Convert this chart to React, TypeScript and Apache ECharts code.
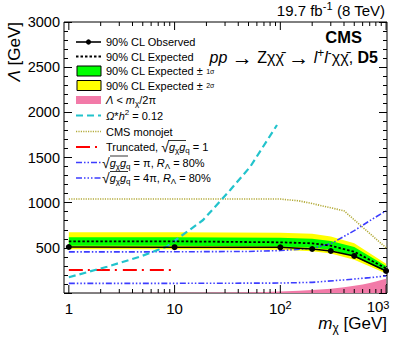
import React, { useEffect, useRef } from 'react';
import * as echarts from 'echarts';

// ---------------- data ----------------
const massPoints = [1, 10, 100, 200, 300, 500, 1000];
const observed = [509, 507, 506, 487, 465, 410, 244];
const expected = [572, 572, 561, 550, 524, 457, 273];
const expUp1 = [617, 617, 612, 600, 576, 508, 300];
const expDown1 = [524, 524, 515, 502, 478, 405, 238];
const expUp2 = [672, 672, 668, 655, 625, 552, 325];
const expDown2 = [484, 484, 478, 462, 438, 368, 216];

const relicMass = [1, 2.3, 4.7, 8.4, 18.6, 33.6, 52, 93];
const relicLambda = [174, 291, 402, 513, 808, 1140, 1399, 1860];

const monojetMass = [1, 100, 150, 200, 400, 1000];
const monojetLambda = [1040, 1040, 1020, 990, 910, 500];

const truncMass = [1, 10.5];
const truncLambda = [255, 255];

const piMass = [1, 10, 50, 100, 200, 300, 500, 700, 1000];
const piLambda = [455, 456, 460, 470, 495, 545, 690, 800, 910];

const fourPiMass = [1, 10, 100, 200, 400, 700, 1000];
const fourPiLambda = [107, 107, 110, 118, 145, 170, 188];

const pinkMass = [1, 10, 30, 60, 100, 150, 200, 300, 400, 500, 600, 700, 800, 900, 1000];
const pinkLambda = [0.16, 1.6, 4.8, 9.5, 16, 24, 32, 48, 64, 80, 95, 111, 127, 143, 159];

const xMajorTicks = [1, 10, 100, 1000];
const xMinorTicks = [2, 3, 4, 5, 6, 7, 8, 9, 20, 30, 40, 50, 60, 70, 80, 90, 200, 300, 400, 500, 600, 700, 800, 900];

const Y_MIN = 0;
const Y_MAX = 3000;
const Y_STEP = 500;
const X_MIN = 0.9;
const X_MAX = 1020;

const legendTexts = [
  '90% CL Observed',
  '90% CL Expected',
  '90% CL Expected ± {s|1σ}',
  '90% CL Expected ± {s|2σ}',
  '{i|Λ} < {i|m}{sub|χ}/2π',
  '{i|Ω}*{i|h}{sup|2} = 0.12',
  'CMS monojet',
  'Truncated, {rad|√}{i|g}{sub|χ}{i|g}{sub|q} = 1',
  '{rad|√}{i|g}{sub|χ}{i|g}{sub|q} = π, {i|R}{sub|Λ} = 80%',
  '{rad|√}{i|g}{sub|χ}{i|g}{sub|q} = 4π, {i|R}{sub|Λ} = 80%',
];

// ---------------- styles ----------------
const FONT = "'Liberation Sans', Arial, Helvetica, sans-serif";
const C_GREEN = '#00ff00';
const C_YELLOW = '#ffff00';
const C_PINK = '#f27aa8';
const C_CYAN = '#22c3cc';
const C_OLIVE = '#b3ab3a';
const C_RED = '#ff0000';
const C_BLUE = '#3d3dff';

const DASH_EXP = [2.5, 2];
const DASH_CYAN = [7, 4];
const DASH_OLIVE = [1.2, 1.2];
const DASH_RED = [14, 5, 2, 6];
const DASH_PI = [6, 2, 1.5, 2, 1.5, 2];
const DASH_4PI = [6, 2, 1.5, 2, 1.5, 2, 1.5, 2];

const mkRich = (base: number) => ({
  i: { fontStyle: 'italic', fontSize: base, fontFamily: FONT, lineHeight: base + 4, fill: '#000', color: '#000' },
  sub: { fontSize: Math.round(base * 0.72), fontFamily: FONT, lineHeight: Math.round(base * 0.72), verticalAlign: 'bottom', fill: '#000', color: '#000' },
  sup: { fontSize: Math.round(base * 0.72), fontFamily: FONT, lineHeight: Math.round(base * 0.72), verticalAlign: 'top', fill: '#000', color: '#000' },
  s: { fontSize: Math.round(base * 0.65), fontFamily: FONT, lineHeight: base + 4, fill: '#000', color: '#000' },
  rad: { fontSize: base + 3, fontFamily: FONT, lineHeight: base + 4, fill: '#000', color: '#000' },
  b: { fontSize: base, fontWeight: 'bold', fontFamily: FONT, lineHeight: base + 4, fill: '#000', color: '#000' },
  g: { fontSize: base, fontFamily: FONT, lineHeight: base + 4, fill: '#000', color: '#000' },
  ar: { fontSize: base + 5, fontFamily: FONT, lineHeight: base + 4, fill: '#000', color: '#000' },
});

const pair = (xs: number[], ys: number[]) => xs.map((x, i) => [x, ys[i]]);

const lineSeries = (name: string, xs: number[], ys: number[], color: string, width: number, dash: any, z: number) => ({
  name,
  type: 'line',
  data: pair(xs, ys),
  showSymbol: false,
  symbol: 'none',
  silent: true,
  z,
  lineStyle: { color, width, type: dash },
});

const bandSeries = (up: number[], down: number[], color: string, z: number) => ({
  type: 'custom',
  z,
  silent: true,
  clip: true,
  data: [[massPoints[0], down[0]]],
  renderItem: (_p: any, api: any) => {
    const top = massPoints.map((m, i) => api.coord([m, up[i]]));
    const bottom = massPoints.map((m, i) => api.coord([m, down[i]])).reverse();
    return { type: 'polygon', shape: { points: [...top, ...bottom] }, style: { fill: color } };
  },
});

function buildOption() {
  const legendX1 = 76;
  const legendX2 = 101;
  const rowY = [42, 56.5, 71, 85.5, 100, 115.5, 131.5, 147, 162.5, 178];
  const lrich = mkRich(11);

  const symbols: any[] = [
    { type: 'line', shape: { x1: legendX1, y1: rowY[0], x2: legendX2, y2: rowY[0] }, style: { stroke: '#000', lineWidth: 1.6 } },
    { type: 'circle', shape: { cx: (legendX1 + legendX2) / 2, cy: rowY[0], r: 2.6 }, style: { fill: '#000' } },
    { type: 'line', shape: { x1: legendX1, y1: rowY[1], x2: legendX2, y2: rowY[1] }, style: { stroke: '#000', lineWidth: 1.8, lineDash: DASH_EXP } },
    { type: 'rect', shape: { x: 77, y: rowY[2] - 5, width: 24, height: 10 }, style: { fill: C_GREEN, stroke: '#000', lineWidth: 1 } },
    { type: 'rect', shape: { x: 77, y: rowY[3] - 5, width: 24, height: 10 }, style: { fill: C_YELLOW, stroke: '#000', lineWidth: 1 } },
    { type: 'rect', shape: { x: 76, y: rowY[4] - 4, width: 25, height: 8 }, style: { fill: C_PINK } },
    { type: 'line', shape: { x1: legendX1, y1: rowY[5], x2: legendX2, y2: rowY[5] }, style: { stroke: C_CYAN, lineWidth: 2.2, lineDash: DASH_CYAN } },
    { type: 'line', shape: { x1: legendX1, y1: rowY[6], x2: legendX2, y2: rowY[6] }, style: { stroke: C_OLIVE, lineWidth: 1.6, lineDash: DASH_OLIVE } },
    { type: 'line', shape: { x1: legendX1, y1: rowY[7], x2: legendX2, y2: rowY[7] }, style: { stroke: C_RED, lineWidth: 2, lineDash: DASH_RED } },
    { type: 'line', shape: { x1: legendX1, y1: rowY[8], x2: legendX2, y2: rowY[8] }, style: { stroke: C_BLUE, lineWidth: 1.6, lineDash: DASH_PI } },
    { type: 'line', shape: { x1: legendX1, y1: rowY[9], x2: legendX2, y2: rowY[9] }, style: { stroke: C_BLUE, lineWidth: 1.6, lineDash: DASH_4PI } },
  ];

  const texts: any[] = legendTexts.map((t, k) => ({
    type: 'text',
    x: k >= 8 ? 102 : 106,
    y: rowY[k],
    style: { text: t, rich: lrich, fontSize: 11, fontFamily: FONT, lineHeight: 15, fill: '#000', align: 'left', verticalAlign: 'middle' },
  }));

  const overlines: any[] = [
    { type: 'line', shape: { x1: 168, y1: rowY[7] - 6.5, x2: 186, y2: rowY[7] - 6.5 }, style: { stroke: '#000', lineWidth: 0.8 } },
    { type: 'line', shape: { x1: 110, y1: rowY[8] - 6.5, x2: 128, y2: rowY[8] - 6.5 }, style: { stroke: '#000', lineWidth: 0.8 } },
    { type: 'line', shape: { x1: 110, y1: rowY[9] - 6.5, x2: 128, y2: rowY[9] - 6.5 }, style: { stroke: '#000', lineWidth: 0.8 } },
  ];

  const headers: any[] = [
    {
      type: 'text', x: 385, y: 10,
      style: { text: '19.7 fb{sup|-1} (8 TeV)', rich: mkRich(15), fontSize: 15, fontFamily: FONT, lineHeight: 19, fill: '#000', align: 'right', verticalAlign: 'middle' },
    },
    {
      type: 'text', x: 362, y: 37,
      style: { text: 'CMS', fontSize: 16.5, fontWeight: 'bold', fontFamily: FONT, fill: '#000', align: 'right', verticalAlign: 'middle' },
    },
    {
      type: 'text', x: 378, y: 57,
      style: {
        text: '{i|pp} {ar|→} Z{g|χχ̄} {ar|→} {i|l}{sup|+}{i|l}{sup|-}{g|χχ̄}, {b|D5}',
        rich: mkRich(16), fontSize: 16, fontFamily: FONT, lineHeight: 20, fill: '#000', align: 'right', verticalAlign: 'middle',
      },
    },
    {
      type: 'text', x: 14, y: 22, rotation: Math.PI / 2,
      style: { text: '{i|Λ} [GeV]', rich: mkRich(17), fontSize: 17, fontFamily: FONT, lineHeight: 21, fill: '#000', align: 'right', verticalAlign: 'middle' },
    },
    {
      type: 'text', x: 387, y: 323,
      style: { text: '{i|m}{sub|χ} [GeV]', rich: mkRich(17), fontSize: 17, fontFamily: FONT, lineHeight: 21, fill: '#000', align: 'right', verticalAlign: 'middle' },
    },
  ];

  const xTickData = [...xMajorTicks.map((v) => [v, Y_MIN, 1]), ...xMinorTicks.map((v) => [v, Y_MIN, 0])];

  const yAxisBase = {
    type: 'value',
    min: Y_MIN,
    max: Y_MAX,
    interval: Y_STEP,
    axisLine: { show: false },
    splitLine: { show: false },
    axisTick: { show: true, inside: true, length: 8, lineStyle: { color: '#000', width: 1 } },
    minorTick: { show: true, splitNumber: 5, length: 4, lineStyle: { color: '#000', width: 1 } },
  };

  return {
    animation: false,
    backgroundColor: '#ffffff',
    grid: {
      left: 64, right: 12, top: 22, bottom: 44,
      containLabel: false, outerBoundsMode: 'none',
      show: true, borderColor: '#000', borderWidth: 1, backgroundColor: 'transparent',
    },
    xAxis: {
      type: 'log',
      logBase: 10,
      min: X_MIN,
      max: X_MAX,
      axisLine: { show: false },
      axisTick: { show: false },
      minorTick: { show: false },
      splitLine: { show: false },
      axisLabel: {
        margin: 6,
        fontSize: 15,
        fontFamily: FONT,
        color: '#000',
        lineHeight: 18,
        formatter: (v: number) => {
          const hit = xMajorTicks.find((t) => Math.abs(t - v) < 1e-6 * t);
          if (hit === undefined) return '';
          const e = Math.round(Math.log10(hit));
          if (e === 0) return '1';
          if (e === 1) return '10';
          if (hit === xMajorTicks[xMajorTicks.length - 1]) return `{last|10}{lsup|${e}}`;
          return `{b|10}{sup|${e}}`;
        },
        rich: {
          b: { fontSize: 15, fontFamily: FONT, color: '#000', lineHeight: 18 },
          sup: { fontSize: 11, fontFamily: FONT, color: '#000', lineHeight: 11, verticalAlign: 'top' },
          last: { fontSize: 15, fontFamily: FONT, color: '#000', lineHeight: 14 },
          lsup: { fontSize: 11, fontFamily: FONT, color: '#000', lineHeight: 11, verticalAlign: 'top', padding: [0, 16, 0, 0] },
        },
      },
    },
    yAxis: [
      {
        ...yAxisBase,
        position: 'left',
        axisLabel: {
          margin: 4,
          fontSize: 14.5,
          fontFamily: FONT,
          color: '#000',
          formatter: (v: number) => (v === Y_MIN ? '' : String(v)),
        },
      },
      { ...yAxisBase, position: 'right', axisLabel: { show: false } },
    ],
    graphic: { elements: [...symbols, ...texts, ...overlines, ...headers] },
    series: [
      {
        name: 'pink',
        type: 'line',
        data: pair(pinkMass, pinkLambda),
        showSymbol: false,
        symbol: 'none',
        silent: true,
        z: 1,
        lineStyle: { width: 0 },
        areaStyle: { color: C_PINK, opacity: 1, origin: 'start' },
      },
      bandSeries(expUp2, expDown2, C_YELLOW, 2),
      bandSeries(expUp1, expDown1, C_GREEN, 3),
      lineSeries('monojet', monojetMass, monojetLambda, C_OLIVE, 1.6, DASH_OLIVE, 4),
      lineSeries('4pi', fourPiMass, fourPiLambda, C_BLUE, 1.6, DASH_4PI, 4),
      lineSeries('pi', piMass, piLambda, C_BLUE, 1.6, DASH_PI, 4),
      lineSeries('trunc', truncMass, truncLambda, C_RED, 2, DASH_RED, 4),
      lineSeries('relic', relicMass, relicLambda, C_CYAN, 2.2, DASH_CYAN, 5),
      lineSeries('expected', massPoints, expected, '#000', 1.8, DASH_EXP, 6),
      {
        name: 'observed',
        type: 'line',
        data: pair(massPoints, observed),
        symbol: 'circle',
        symbolSize: 6,
        showSymbol: true,
        silent: true,
        z: 7,
        itemStyle: { color: '#000' },
        lineStyle: { color: '#000', width: 1.6 },
      },
      {
        type: 'custom',
        z: 10,
        silent: true,
        clip: false,
        data: xTickData,
        renderItem: (_p: any, api: any) => {
          const v = api.value(0);
          const len = api.value(2) ? 8 : 4;
          const b = api.coord([v, Y_MIN]);
          const t = api.coord([v, Y_MAX]);
          return {
            type: 'group',
            children: [
              { type: 'line', shape: { x1: b[0], y1: b[1], x2: b[0], y2: b[1] - len }, style: { stroke: '#000', lineWidth: 1 } },
              { type: 'line', shape: { x1: t[0], y1: t[1], x2: t[0], y2: t[1] + len }, style: { stroke: '#000', lineWidth: 1 } },
            ],
          };
        },
      },
    ],
  };
}

export default function App() {
  const ref = useRef<HTMLDivElement>(null);
  useEffect(() => {
    if (!ref.current) return;
    const chart = echarts.init(ref.current, null, { renderer: 'svg' });
    chart.setOption(buildOption() as any);
    return () => chart.dispose();
  }, []);
  return (
    <div
      ref={ref}
      style={{ position: 'absolute', left: 0, top: 0, width: 399, height: 337, background: '#fff' }}
    />
  );
}
